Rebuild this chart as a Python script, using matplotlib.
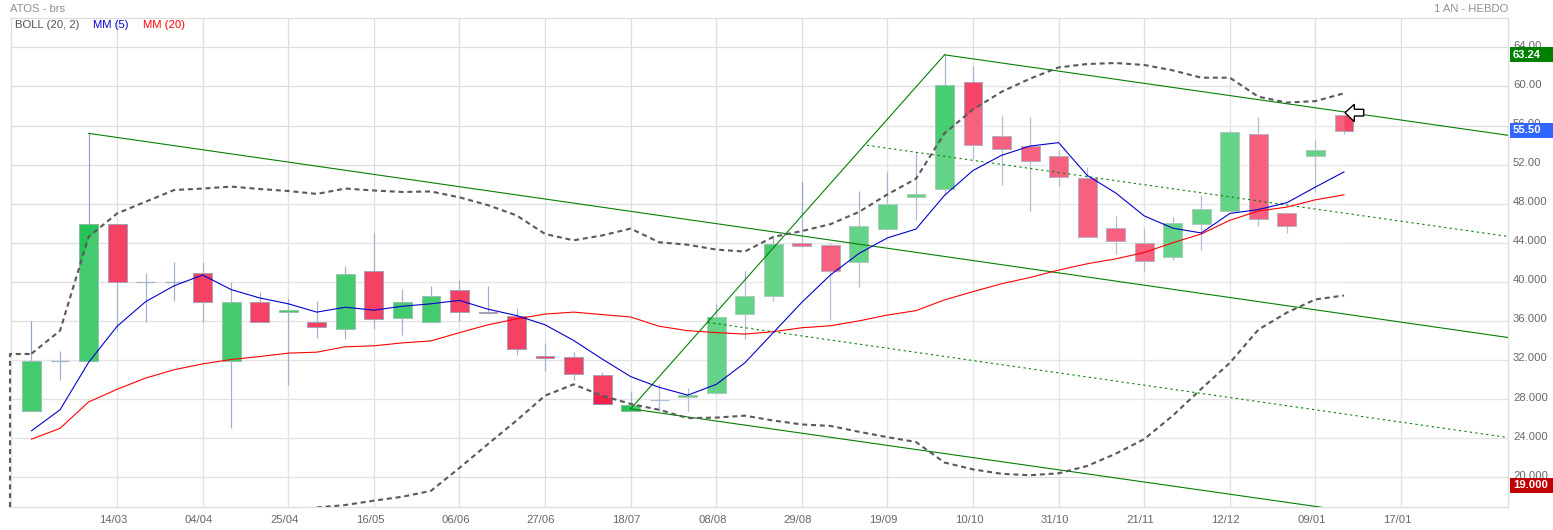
#!/usr/bin/env python3
"""Weekly ATOS candles with moving averages, Bollinger bands and a fork."""
import matplotlib

matplotlib.use("Agg")
import matplotlib.pyplot as plt  # noqa: E402
import numpy as np  # noqa: E402
from matplotlib.patches import Polygon, Rectangle  # noqa: E402

plt.rcParams["font.family"] = ["Liberation Sans", "DejaVu Sans"]

WIDTH, HEIGHT = 1553, 530
AX_LEFT, AX_RIGHT, AX_TOP, AX_BOTTOM = 10.5, 1508.0, 17.5, 506.5

# candles, one week per entry
opens = [26.8, 31.9, 31.9, 45.95, 40.0, 40.0, 40.95, 31.9, 37.95, 36.9, 35.9, 35.15,
         41.1, 36.3, 35.85, 39.2, 36.9, 36.5, 32.4, 32.35, 30.45, 26.8, 27.9, 28.25,
         28.6, 36.75, 38.6, 44.0, 43.8, 42.0, 45.4, 48.7, 49.5, 60.5, 54.9, 53.95,
         52.9, 50.65, 45.5, 44.0, 42.5, 45.9, 47.2, 55.1, 47.0, 52.85, 57.05]
closes = [31.9, 31.9, 45.95, 40.0, 40.0, 40.0, 37.9, 37.95, 35.85, 37.1, 35.35, 40.8,
          36.2, 37.9, 38.6, 36.9, 36.8, 33.1, 32.25, 30.6, 27.45, 27.4, 27.9, 28.4,
          36.35, 38.5, 43.9, 43.65, 41.1, 45.75, 48.0, 48.95, 60.2, 54.0, 53.6, 52.35,
          50.75, 44.6, 44.15, 42.1, 46.0, 47.5, 55.3, 46.4, 45.7, 53.45, 55.45]
highs = [36.0, 32.95, 55.2, 45.95, 40.95, 42.0, 42.0, 40.0, 39.0, 38.35, 38.0, 41.65,
         45.0, 39.3, 39.6, 40.2, 39.6, 37.35, 33.75, 32.85, 30.8, 28.8, 29.5, 29.15,
         37.7, 41.15, 44.65, 50.2, 44.0, 49.25, 51.2, 53.3, 63.24, 62.1, 57.05, 56.85,
         53.5, 51.75, 46.7, 45.55, 46.6, 48.85, 55.5, 56.85, 47.0, 54.5, 57.05]
lows = [26.8, 30.0, 31.9, 35.0, 35.9, 38.0, 35.9, 25.0, 35.85, 29.4, 34.2, 34.1,
        35.15, 34.6, 35.85, 36.0, 36.7, 32.55, 30.9, 29.9, 27.45, 26.8, 26.75, 26.8,
        28.5, 34.1, 38.0, 43.6, 36.1, 39.5, 45.4, 46.3, 48.85, 52.6, 49.9, 47.2,
        49.8, 44.6, 42.8, 41.1, 42.2, 43.3, 47.2, 45.7, 45.0, 49.15, 55.1]

mm5 = [24.75, 26.9, 31.75, 35.45, 37.97, 39.6, 40.7, 39.2, 38.35, 37.75, 36.9, 37.4,
       37.1, 37.5, 37.75, 38.1, 37.2, 36.55, 35.6, 34.0, 32.1, 30.3, 29.2, 28.4,
       29.5, 31.7, 34.8, 37.9, 40.7, 42.9, 44.5, 45.4, 48.85, 51.4, 52.95, 53.9,
       54.25, 50.9, 49.1, 46.75, 45.5, 45.0, 47.0, 47.4, 48.1, 49.7, 51.25]
mm20 = [23.9, 25.0, 27.7, 29.0, 30.15, 31.0, 31.6, 32.05, 32.35, 32.7, 32.8, 33.35,
        33.45, 33.75, 33.95, 34.8, 35.6, 36.2, 36.7, 36.9, 36.65, 36.4, 35.45, 35.0,
        34.8, 34.65, 34.9, 35.3, 35.5, 36.0, 36.6, 37.05, 38.15, 39.0, 39.8, 40.45,
        41.2, 41.85, 42.35, 43.0, 44.0, 44.9, 46.3, 47.25, 47.65, 48.4, 48.9]
boll_up = [32.65, 35.0, 44.6, 47.0, 48.2, 49.4, 49.55, 49.75, 49.5, 49.3, 49.0, 49.55,
           49.35, 49.2, 49.25, 48.65, 47.85, 46.8, 44.9, 44.25, 44.75, 45.45, 44.05, 43.8,
           43.3, 43.1, 44.6, 45.2, 45.9, 47.15, 48.95, 50.55, 55.2, 57.65, 59.45, 60.8,
           61.95, 62.3, 62.4, 62.2, 61.65, 60.9, 60.9, 58.95, 58.35, 58.5, 59.3]
# lower band is off the chart for the first ten weeks
boll_low = [np.nan] * 10 + [
    16.9, 17.15, 17.6, 18.0, 18.6, 20.95, 23.4, 25.8, 28.35, 29.5, 28.35, 27.5,
    26.9, 26.05, 26.1, 26.3, 25.8, 25.4, 25.25, 24.65, 24.1, 23.6, 21.5, 20.8,
    20.35, 20.2, 20.4, 21.15, 22.4, 23.9, 26.3, 29.05, 31.7, 35.1, 36.85, 38.2, 38.6]

date_ticks = [3, 6, 9, 12, 15, 18, 21, 24, 27, 30, 33, 36, 39, 42, 45, 48]
date_labels = ["14/03", "04/04", "25/04", "16/05", "06/06", "27/06", "18/07", "08/08",
               "29/08", "19/09", "10/10", "31/10", "21/11", "12/12", "09/01", "17/01"]
price_ticks = [64, 60, 56, 52, 48, 44, 40, 36, 32, 28, 24, 20]
price_labels = ["64.00", "60.00", "56.00", "52.00", "48.000", "44.000", "40.000",
                "36.000", "32.000", "28.000", "24.000", "20.000"]

# drawn trend lines as (week, price) pairs
trend_solid = [
    ([2, 51.75], [55.2, 34.3]),
    ([21, 32], [27.0, 63.24]),
    ([32, 51.75], [63.24, 55.0]),
    ([21, 51.75], [27.0, 14.2]),
]
trend_dotted = [
    ([29.28, 51.75], [53.98, 44.65]),
    ([23.7, 51.75], [35.85, 24.06]),
]

# price badges on the right
badge_values = [63.24, 55.5, 19.15]
badge_texts = ["63.24", "55.50", "19.000"]
badge_colors = ["#008000", "#3366ff", "#bf0000"]

GREEN = "#25c356"
RED = "#f3204a"
WICK = "#8fa5c5"
GRID = "#dedede"
PX = 0.72  # one pixel in points at dpi 100


def main() -> None:
    fig = plt.figure(figsize=(WIDTH / 100, HEIGHT / 100), dpi=100)
    ax = fig.add_axes([AX_LEFT / WIDTH, 1 - AX_BOTTOM / HEIGHT,
                       (AX_RIGHT - AX_LEFT) / WIDTH, (AX_BOTTOM - AX_TOP) / HEIGHT])
    # 28.53 px per week, first candle at 31.5 px
    x_left = -0.736
    ax.set_xlim(x_left, 51.75)
    ymin, ymax = 17.0, 67.06
    ax.set_ylim(ymin, ymax)
    ax.set_xticks(date_ticks)
    ax.set_yticks(price_ticks)
    ax.set_xticklabels([])
    ax.set_yticklabels([])
    ax.tick_params(length=0)
    ax.grid(True, color=GRID, linewidth=1.3 * PX, zorder=0)
    ax.set_axisbelow(True)
    for spine in ax.spines.values():
        spine.set_color(GRID)
        spine.set_linewidth(1.3 * PX)

    weeks = np.arange(len(opens))
    for i in weeks:
        up = closes[i] >= opens[i]
        color = GREEN if up else RED
        ax.vlines(i, lows[i], highs[i], color=WICK, linewidth=1.2 * PX, zorder=2)
        if abs(closes[i] - opens[i]) < 0.01:
            ax.hlines(opens[i], i - 0.33, i + 0.33, color=WICK, linewidth=1.2 * PX, zorder=2)
            continue
        ax.add_patch(Rectangle((i - 0.33, min(opens[i], closes[i])), 0.66,
                               abs(closes[i] - opens[i]), facecolor=color,
                               edgecolor="#9c8fa8" if not up else "#8cb7a0",
                               linewidth=1.0 * PX, zorder=3))

    # white veils that soften candles inside the bands and the fork
    low_filled = np.nan_to_num(np.array(boll_low), nan=ymin)
    ax.fill_between(np.r_[x_left, weeks], np.r_[ymin, low_filled], np.r_[boll_up[0], boll_up],
                    color="white", alpha=0.15, linewidth=0, zorder=4)
    fork_x = [21, 32, 51.75, 51.75, 21]
    fork_y = [27.0, 63.24, 55.0, 14.2, 27.0]
    ax.fill(fork_x, fork_y, color="white", alpha=0.17, linewidth=0, zorder=4)

    for xs, ys in trend_solid:
        ax.plot(xs, ys, color="#008000", linewidth=1.1 * PX, zorder=5)
    for xs, ys in trend_dotted:
        ax.plot(xs, ys, color="#008000", linewidth=1.1 * PX, linestyle=(0, (2, 3)), zorder=5)

    dash = (0, (2.4, 1.8))
    band_lw = 2.1 * PX
    ax.plot([x_left, x_left, 0], [ymin, boll_up[0], boll_up[0]], color="#5a5a5a",
            linewidth=band_lw, linestyle=dash, zorder=6, clip_on=False)
    ax.plot(weeks, boll_up, color="#5a5a5a", linewidth=band_lw, linestyle=dash, zorder=6)
    ax.plot(weeks, boll_low, color="#5a5a5a", linewidth=band_lw, linestyle=dash, zorder=6)
    ax.plot(weeks, mm20, color="#ff0000", linewidth=1.1 * PX, zorder=7)
    ax.plot(weeks, mm5, color="#0000cc", linewidth=1.1 * PX, zorder=7)

    to_fig = fig.transFigure

    def px(x, y):
        return x / WIDTH, 1 - y / HEIGHT

    fs = 8.1
    fig.text(*px(10, 9), "ATOS - brs", color="#909090", fontsize=fs, va="center", ha="left")
    fig.text(*px(1508, 9), "1 AN - HEBDO", color="#909090", fontsize=fs, va="center", ha="right")
    fig.text(*px(15, 25), "BOLL (20, 2)", color="#555555", fontsize=fs, va="center")
    fig.text(*px(93, 25), "MM (5)", color="#0000cc", fontsize=fs, va="center")
    fig.text(*px(143, 25), "MM (20)", color="#ff0000", fontsize=fs, va="center")

    for tick, label in zip(date_ticks, date_labels):
        ax.annotate(label, xy=(tick, 0), xycoords=ax.get_xaxis_transform(),
                    xytext=(-2.9, -9.8), textcoords="offset points", ha="center",
                    va="center", color="#666666", fontsize=fs, annotation_clip=False)
    for tick, label in zip(price_ticks, price_labels):
        ax.annotate(label, xy=(1, tick), xycoords=ax.get_yaxis_transform(),
                    xytext=(3.6, 1.1), textcoords="offset points", ha="left",
                    va="center", color="#666666", fontsize=fs, annotation_clip=False)

    # badges sit over the tick labels
    for value, text, color in zip(badge_values, badge_texts, badge_colors):
        yc = ax.transData.transform((0, value))[1] / fig.dpi / (HEIGHT / 100)
        fig.patches.append(Rectangle((1510 / WIDTH, yc - 7.5 / HEIGHT), 43 / WIDTH, 15 / HEIGHT,
                                     transform=to_fig, facecolor=color, edgecolor="none",
                                     zorder=8, figure=fig))
        fig.text(1513 / WIDTH, yc, text, color="white", fontsize=fs, fontweight="bold",
                 va="center", ha="left", zorder=9)

    # mouse cursor left on the last candle
    cursor = [(1345, 112.7), (1354.3, 104.3), (1354.3, 109.3), (1363.7, 109.3),
              (1363.7, 116), (1354.3, 116), (1354.3, 121.7)]
    fig.patches.append(Polygon([px(*p) for p in cursor], closed=True, transform=to_fig,
                               facecolor="white", edgecolor="black", linewidth=1.0,
                               zorder=10, figure=fig))

    fig.savefig("out.png", dpi=100)
    plt.close(fig)


if __name__ == "__main__":
    main()
